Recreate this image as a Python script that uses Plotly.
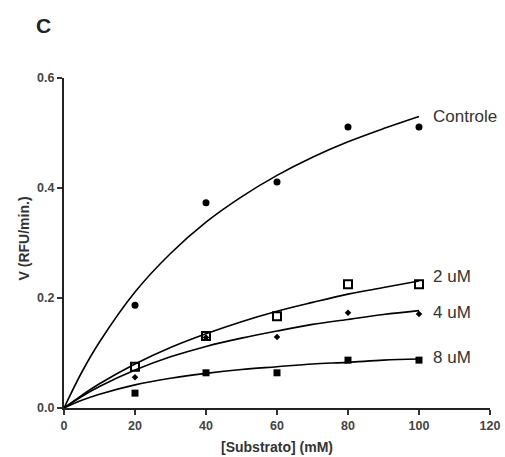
import plotly.graph_objects as go

# Measured points
substrate = [20, 40, 60, 80, 100]
controle = [0.187, 0.373, 0.411, 0.511, 0.511]
um2 = [0.075, 0.131, 0.167, 0.225, 0.225]
um4 = [0.056, 0.128, 0.129, 0.173, 0.171]
um8 = [0.027, 0.064, 0.064, 0.087, 0.087]

# Fitted curves
fit_x = [0, 5, 10, 20, 30, 40, 50, 60, 70, 80, 90, 100]
fit_controle = [0, 0.065, 0.120, 0.211, 0.281, 0.338, 0.384, 0.423, 0.456, 0.484, 0.508, 0.530]
fit_um2 = [0, 0.023, 0.044, 0.080, 0.110, 0.135, 0.157, 0.176, 0.192, 0.207, 0.219, 0.231]
fit_um4 = [0, 0.021, 0.039, 0.069, 0.093, 0.112, 0.127, 0.140, 0.152, 0.161, 0.170, 0.177]
fit_um8 = [0, 0.014, 0.025, 0.042, 0.054, 0.063, 0.070, 0.075, 0.080, 0.083, 0.087, 0.089]

series_names = ["Controle", "2 uM", "4 uM", "8 uM"]
label_y = [0.53, 0.24, 0.173, 0.091]
x_ticks = [0, 20, 40, 60, 80, 100, 120]
y_ticks = [0.0, 0.2, 0.4, 0.6]

fig = go.Figure()

for fx in [fit_controle, fit_um2, fit_um4, fit_um8]:
    fig.add_trace(go.Scatter(x=fit_x, y=fx, mode="lines",
                             line=dict(color="black", width=1.6, shape="spline"),
                             showlegend=False, hoverinfo="skip"))

markers = [
    dict(symbol="circle", size=7, color="black"),
    dict(symbol="square-open", size=8, color="black", line=dict(width=2, color="black")),
    dict(symbol="diamond", size=5, color="black"),
    dict(symbol="square", size=7, color="black"),
]
for ys, mk, nm in zip([controle, um2, um4, um8], markers, series_names):
    fig.add_trace(go.Scatter(x=substrate, y=ys, mode="markers", marker=mk,
                             name=nm, showlegend=False))

for nm, ly in zip(series_names, label_y):
    fig.add_annotation(x=103.5, y=ly, text=nm, showarrow=False, xanchor="left",
                       yanchor="middle", font=dict(family="Arial", size=17, color="#333"))

fig.add_annotation(xref="paper", yref="paper", x=-0.047, y=1.16, text="<b>C</b>",
                   showarrow=False, xanchor="center", yanchor="middle",
                   font=dict(family="Arial", size=21, color="#222"))
fig.add_annotation(xref="paper", yref="paper", x=0.5, y=-0.118,
                   text="<b>[Substrato] (mM)</b>", showarrow=False,
                   xanchor="center", yanchor="middle",
                   font=dict(family="Arial", size=14, color="#333"))
fig.add_annotation(xref="paper", yref="paper", x=-0.093, y=0.515,
                   text="<b>V (RFU/min.)</b>", showarrow=False, textangle=-90,
                   xanchor="center", yanchor="middle",
                   font=dict(family="Arial", size=14, color="#333"))

axis_common = dict(showgrid=False, zeroline=False, showline=True,
                   linecolor="#222", linewidth=2, ticks="outside", ticklen=5,
                   tickwidth=1.5, tickcolor="#333",
                   tickfont=dict(family="Arial", size=12.5, color="#444"))
fig.update_xaxes(range=[0, 120], tickvals=x_ticks,
                 ticktext=["<b>%d</b>" % v for v in x_ticks], **axis_common)
fig.update_yaxes(range=[0, 0.6], tickvals=y_ticks,
                 ticktext=["<b>%.1f</b>" % v for v in y_ticks], **axis_common)

fig.update_layout(width=505, height=457, plot_bgcolor="white", paper_bgcolor="white",
                  margin=dict(l=64, r=15, t=78, b=49, autoexpand=False), showlegend=False)

fig.write_html("out.html")
